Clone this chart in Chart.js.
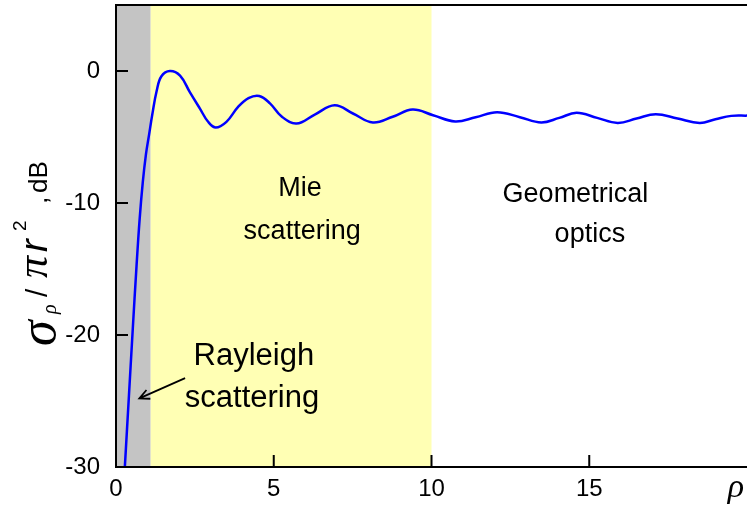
<!DOCTYPE html>
<html>
<head>
<meta charset="utf-8">
<script src="https://cdn.jsdelivr.net/npm/chart.js@4.4.1/dist/chart.umd.min.js"></script>
<style>
  html, body { margin: 0; padding: 0; background: #fff; }
  #wrap { width: 747px; height: 510px; overflow: hidden; }
</style>
</head>
<body>
<div id="wrap"><canvas id="rcs" width="747" height="510"></canvas></div>
<script>
// size parameter and normalised backscattering cross-section (dB)
const rho = [0.28, 0.41, 0.53, 0.65, 0.75, 0.85, 0.95, 1.05, 1.15, 1.29, 1.44, 1.71,
  2.03, 2.34, 2.66, 2.92, 3.16, 3.5, 3.87, 4.2, 4.54, 4.88, 5.25, 5.72,
  6.3, 6.93, 7.51, 8.14, 8.77, 9.4, 10.05, 10.75, 11.4, 12.08, 12.8, 13.48, 14.05,
  14.6, 15.25, 15.9, 16.5, 17.11, 17.8, 18.5, 19.0, 19.5, 20.0];
const sigmaDb = [-30, -24.6, -19.6, -14.8, -11.2, -8.4, -6.3, -4.8, -3.3, -1.5, -0.4, 0,
  -0.35, -1.6, -2.85, -3.85, -4.28, -3.85, -2.72, -2.05, -1.89, -2.45, -3.45, -3.98,
  -3.3, -2.6, -3.22, -3.9, -3.47, -2.92, -3.35, -3.82, -3.5, -3.12, -3.5, -3.9, -3.55,
  -3.17, -3.55, -3.93, -3.6, -3.27, -3.6, -3.93, -3.65, -3.4, -3.38];

const xTicks = [0, 5, 10, 15];
const yTicks = [-30, -20, -10, 0];

// Rayleigh / Mie / optics boundaries on rho
const regionEdges = [0, 1.1, 10];
const regionColors = ['#c4c4c4', '#ffffb4'];

// text labels, placed in data units
const notes = [
  { text: 'Mie', x: 5.83, y: -9.5, size: 27 },
  { text: 'scattering', x: 5.9, y: -12.7, size: 27 },
  { text: 'Geometrical', x: 14.56, y: -9.94, size: 27 },
  { text: 'optics', x: 15.02, y: -12.97, size: 27 },
  { text: 'Rayleigh', x: 4.37, y: -22.29, size: 31 },
  { text: 'scattering', x: 4.31, y: -25.44, size: 31 }
];
const arrowFrom = [2.19, -23.27];
const arrowTo = [0.74, -24.8];

const sans = 'Arial, "Liberation Sans", sans-serif';
const serif = '"Liberation Serif", "Times New Roman", serif';

const regions = {
  id: 'regions',
  beforeDraw(chart) {
    const { ctx, chartArea: a, scales: { x } } = chart;
    ctx.save();
    for (let i = 0; i < regionColors.length; i++) {
      const x0 = x.getPixelForValue(regionEdges[i]);
      const x1 = x.getPixelForValue(regionEdges[i + 1]);
      ctx.fillStyle = regionColors[i];
      ctx.fillRect(x0, a.top, x1 - x0, a.bottom - a.top);
    }
    ctx.restore();
  }
};

function drawYTitle(ctx, bx, by) {
  // rotated title: sigma_rho / pi r^2 , dB
  ctx.save();
  ctx.translate(bx, by);
  ctx.rotate(-Math.PI / 2);
  ctx.fillStyle = '#000';
  ctx.textBaseline = 'alphabetic';
  ctx.textAlign = 'left';
  const runs = [
    { t: '\u03c3', f: 'italic 52px ' + serif, x: -2, y: 8 },
    { t: '\u03c1', f: 'italic 20px ' + serif, x: 30, y: 9 },
    { t: '/', f: '30px ' + sans, x: 47, y: 0 },
    { t: '\u03c0', f: 'italic 44px ' + serif, x: 66, y: 0 },
    { t: 'r', f: 'italic 38px ' + sans, x: 92, y: 0 },
    { t: '2', f: '19px ' + sans, x: 113, y: -21 },
    { t: ',', f: '26px ' + sans, x: 140, y: 0 },
    { t: 'dB', f: '26px ' + sans, x: 151, y: 0 }
  ];
  runs.forEach(r => {
    ctx.font = r.f;
    ctx.fillText(r.t, r.x, r.y);
  });
  ctx.restore();
}

const decor = {
  id: 'decor',
  afterDraw(chart) {
    const { ctx, chartArea: a, scales: { x, y } } = chart;
    ctx.save();
    ctx.strokeStyle = '#000';
    ctx.lineWidth = 2;
    // frame top
    ctx.beginPath();
    ctx.moveTo(a.left, a.top);
    ctx.lineTo(a.right, a.top);
    ctx.stroke();
    // inward ticks
    ctx.beginPath();
    xTicks.forEach(v => {
      const px = x.getPixelForValue(v);
      ctx.moveTo(px, a.bottom);
      ctx.lineTo(px, a.bottom - 12);
    });
    yTicks.forEach(v => {
      const py = y.getPixelForValue(v);
      ctx.moveTo(a.left, py);
      ctx.lineTo(a.left + 12, py);
    });
    ctx.stroke();

    // region labels
    ctx.fillStyle = '#000';
    ctx.textAlign = 'center';
    ctx.textBaseline = 'alphabetic';
    notes.forEach(n => {
      ctx.font = n.size + 'px ' + sans;
      ctx.fillText(n.text, x.getPixelForValue(n.x), y.getPixelForValue(n.y));
    });

    // arrow to the Rayleigh part
    const fx = x.getPixelForValue(arrowFrom[0]), fy = y.getPixelForValue(arrowFrom[1]);
    const tx = x.getPixelForValue(arrowTo[0]), ty = y.getPixelForValue(arrowTo[1]);
    const ang = Math.atan2(ty - fy, tx - fx);
    ctx.lineWidth = 1.8;
    ctx.beginPath();
    ctx.moveTo(fx, fy);
    ctx.lineTo(tx, ty);
    ctx.moveTo(tx + 11 * Math.cos(ang + Math.PI - 0.45), ty + 11 * Math.sin(ang + Math.PI - 0.45));
    ctx.lineTo(tx, ty);
    ctx.lineTo(tx + 11 * Math.cos(ang + Math.PI + 0.45), ty + 11 * Math.sin(ang + Math.PI + 0.45));
    ctx.stroke();

    // axis titles
    ctx.font = 'italic 34px ' + serif;
    ctx.textAlign = 'center';
    ctx.fillText('\u03c1', 736, 497);
    drawYTitle(ctx, 47, 344);
    ctx.restore();
  }
};

new Chart(document.getElementById('rcs'), {
  type: 'line',
  data: {
    datasets: [{
      data: rho.map((r, i) => ({ x: r, y: sigmaDb[i] })),
      borderColor: '#0000ff',
      borderWidth: 2.5,
      pointRadius: 0,
      fill: false,
      tension: 0.4
    }]
  },
  options: {
    responsive: false,
    animation: false,
    layout: { padding: { top: 5, right: 0, left: 0, bottom: 0 } },
    plugins: { legend: { display: false }, tooltip: { enabled: false } },
    scales: {
      x: {
        type: 'linear',
        min: 0,
        max: 20,
        afterBuildTicks: s => { s.ticks = xTicks.map(v => ({ value: v })); },
        afterFit: s => { s.height = 43; s.paddingLeft = 0; s.paddingRight = 0; },
        grid: { display: false, drawTicks: false },
        border: { display: true, color: '#000', width: 2 },
        ticks: { padding: 8, color: '#000', font: { family: sans, size: 24 }, maxRotation: 0 }
      },
      y: {
        type: 'linear',
        min: -30,
        max: 5,
        afterBuildTicks: s => { s.ticks = yTicks.map(v => ({ value: v })); },
        afterFit: s => { s.width = 116; s.paddingTop = 0; s.paddingBottom = 0; },
        grid: { display: false, drawTicks: false },
        border: { display: true, color: '#000', width: 2 },
        ticks: { padding: 16, color: '#000', font: { family: sans, size: 24 } }
      }
    }
  },
  plugins: [regions, decor]
});
</script>
</body>
</html>
